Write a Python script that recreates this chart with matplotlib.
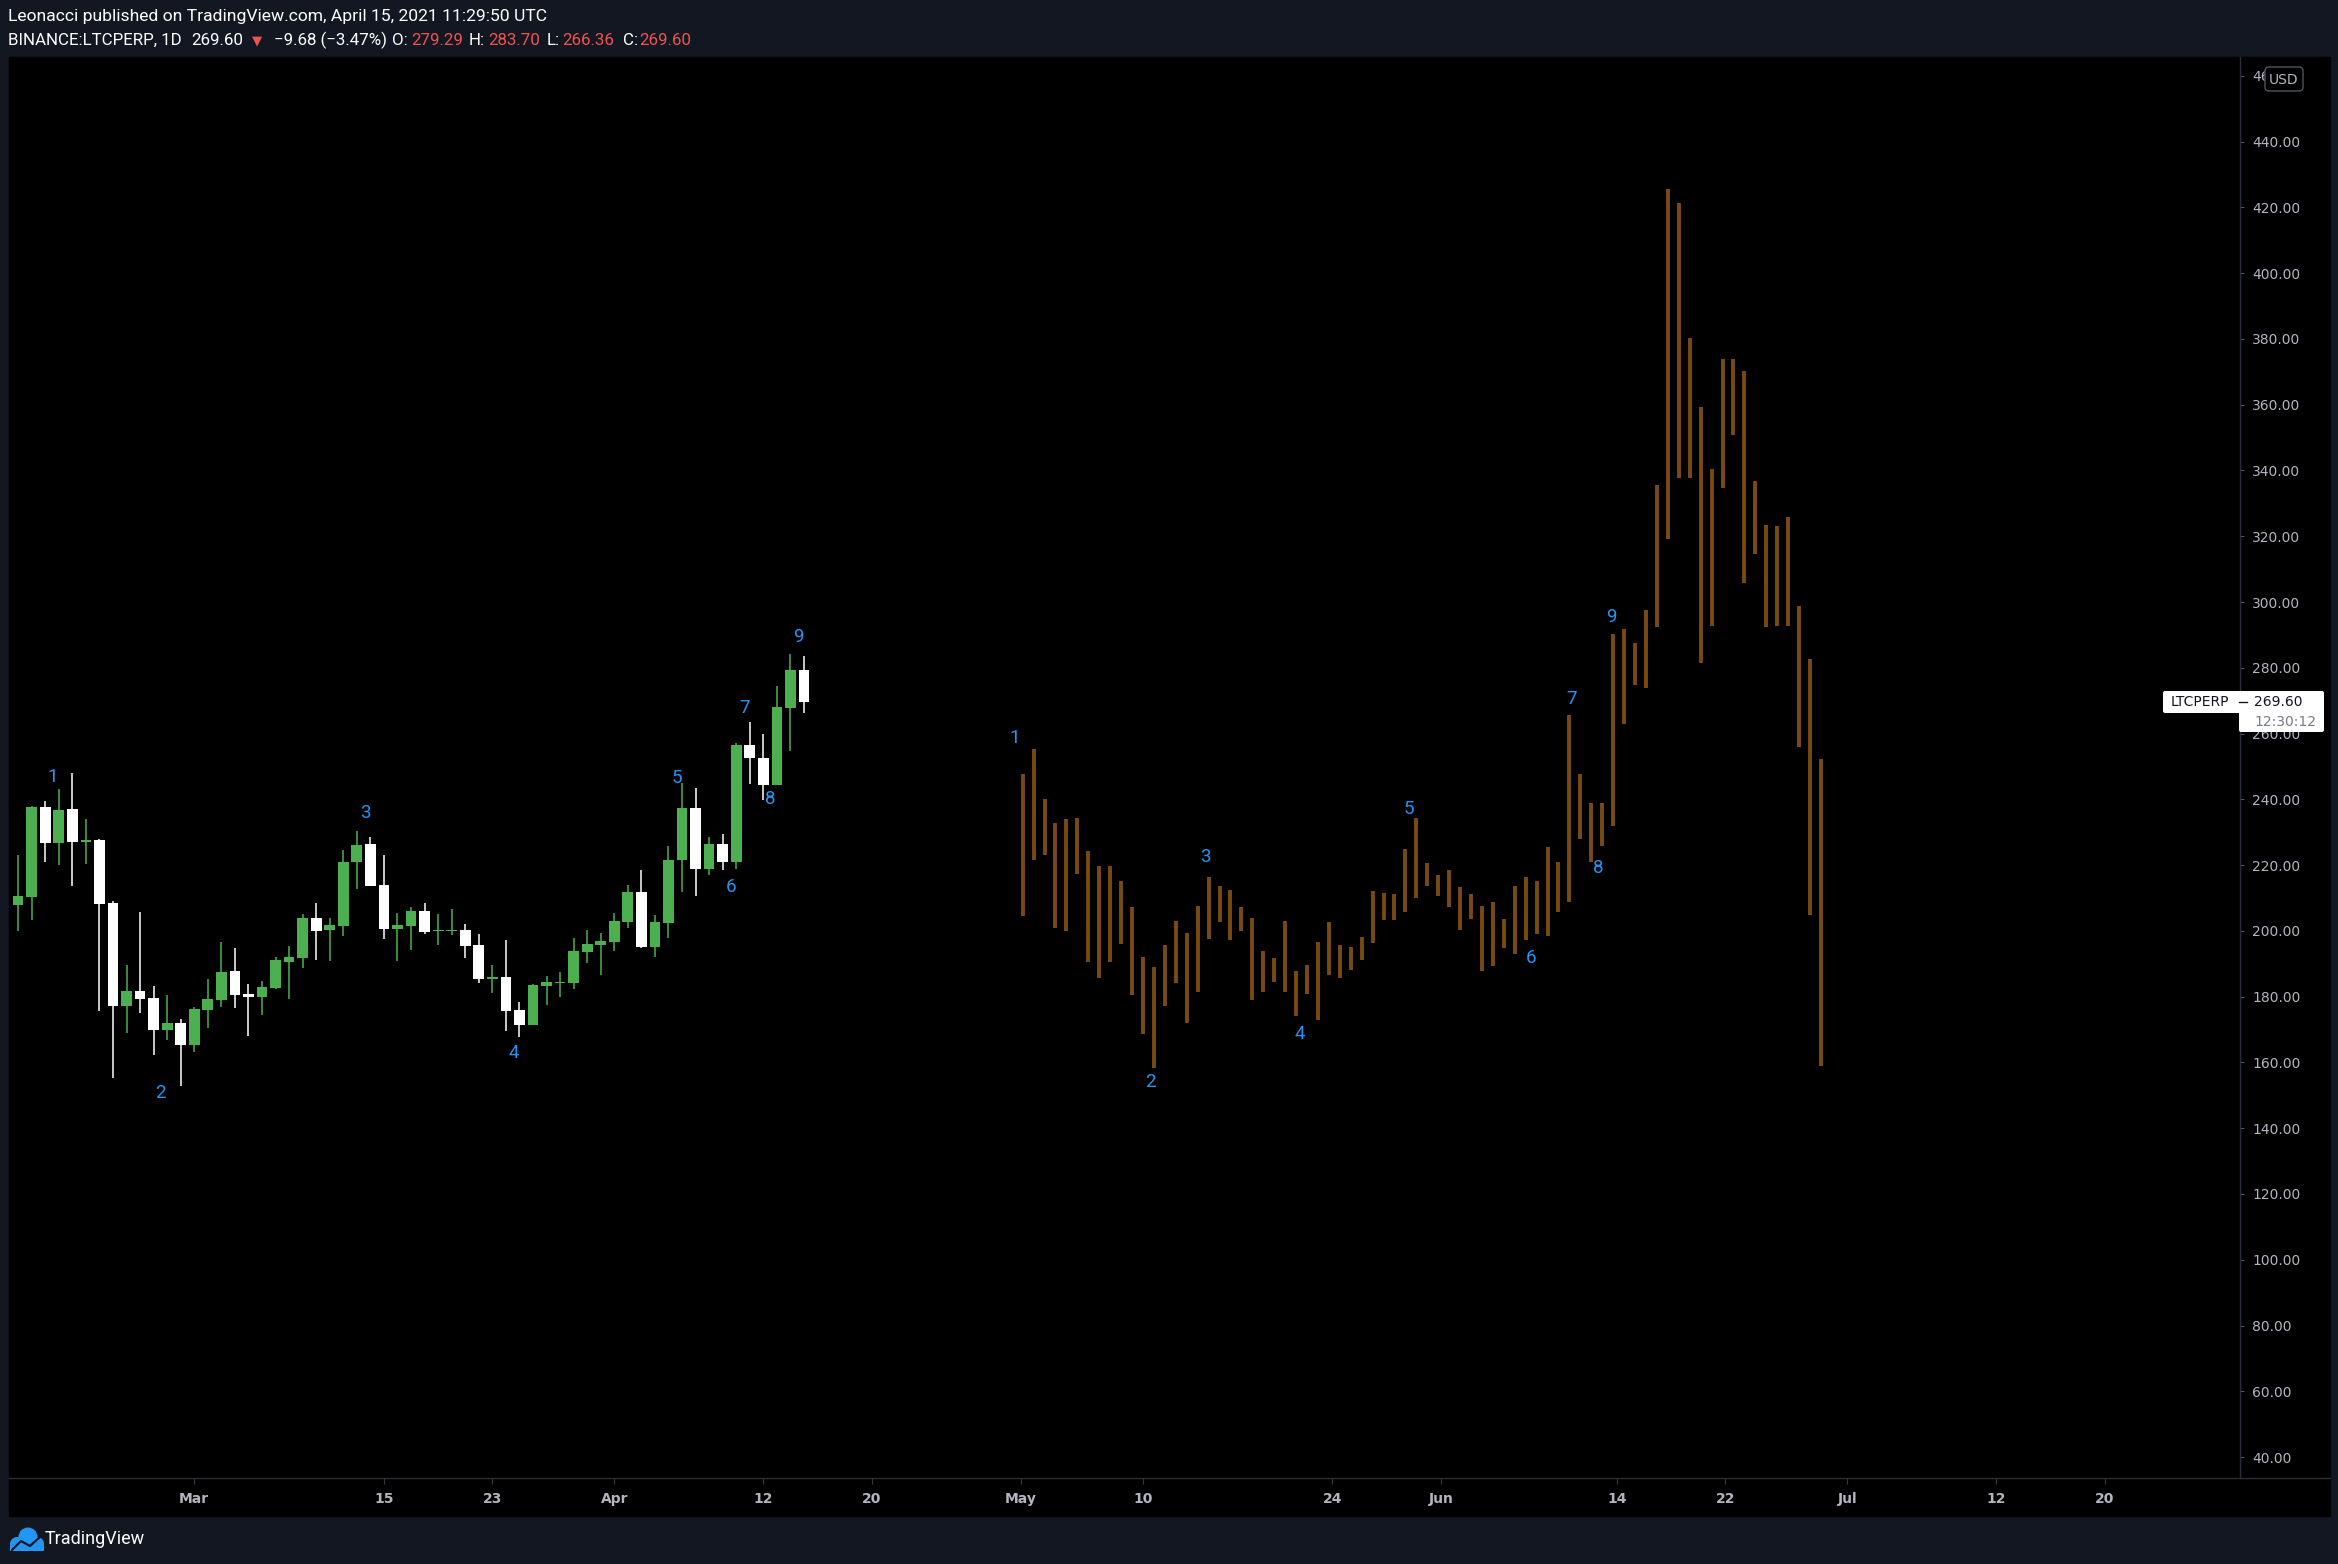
import numpy as np
import pandas as pd
import matplotlib
matplotlib.use('Agg')
import matplotlib.pyplot as plt
from matplotlib.patches import Rectangle, FancyBboxPatch, Circle

# ---------------- data ----------------
candle_start = '2021-02-16'
opens  = [208.0, 210.4, 237.7, 226.8, 237.0, 227.1, 227.6, 208.5, 177.2, 181.7,
          179.6, 170.0, 172.0, 165.4, 176.0, 179.1, 187.8, 180.8, 180.0, 182.7,
          190.6, 191.8, 203.9, 200.4, 201.6, 221.0, 226.4, 213.9, 200.7, 201.6,
          206.0, 199.9, 199.9, 200.2, 195.7, 185.5, 186.0, 175.9, 171.4, 183.3,
          184.2, 184.2, 193.7, 195.8, 196.7, 202.8, 211.8, 195.2, 202.5, 221.6,
          237.4, 218.9, 226.4, 221.0, 256.5, 252.7, 244.4, 267.9, 279.29]
highs  = [223.1, 238.0, 239.5, 243.1, 248.0, 234.0, 227.9, 209.1, 189.6, 205.7,
          183.2, 180.5, 173.2, 176.8, 185.4, 196.6, 194.8, 183.8, 184.7, 192.0,
          195.4, 205.1, 208.5, 203.9, 224.6, 230.4, 228.5, 223.1, 205.4, 207.2,
          208.5, 205.1, 206.6, 202.1, 199.0, 189.6, 197.2, 178.4, 183.8, 186.3,
          187.5, 197.8, 200.3, 199.3, 205.4, 213.9, 218.5, 204.8, 225.8, 245.0,
          243.4, 228.5, 229.4, 257.0, 263.5, 259.9, 274.5, 284.3, 283.70]
lows   = [200.0, 203.3, 221.0, 220.1, 213.7, 220.4, 175.7, 155.3, 169.0, 175.1,
          162.3, 166.9, 152.9, 163.3, 170.6, 176.9, 176.6, 168.1, 174.5, 182.2,
          179.4, 188.8, 191.2, 190.9, 198.5, 212.8, 213.7, 197.6, 190.9, 194.3,
          199.1, 195.8, 198.8, 191.8, 184.2, 181.2, 169.6, 167.8, 171.4, 177.5,
          180.0, 182.4, 190.3, 186.7, 194.0, 200.9, 194.9, 192.1, 197.9, 211.9,
          210.7, 217.1, 218.6, 218.9, 244.8, 239.9, 244.4, 254.8, 266.36]
closes = [210.6, 237.7, 226.8, 236.7, 227.1, 227.6, 208.3, 177.2, 181.7, 179.4,
          170.0, 172.0, 165.4, 176.2, 179.3, 187.5, 180.6, 180.0, 182.9, 191.1,
          192.0, 203.9, 200.1, 201.8, 220.9, 226.1, 213.7, 200.7, 201.8, 206.0,
          199.7, 200.2, 200.2, 195.5, 185.5, 186.0, 175.7, 171.4, 183.5, 184.4,
          184.5, 193.9, 196.0, 196.9, 203.0, 211.8, 195.2, 202.7, 221.5, 237.4,
          218.9, 226.4, 221.0, 256.5, 252.7, 244.4, 268.1, 279.3, 269.60]

# projected "bars pattern" (high / low of each projected bar)
pattern_high = [247.7, 255.3, 240.1, 232.8, 234.0, 234.3, 224.3, 219.7, 219.7, 215.2,
                207.3, 192.1, 189.0, 195.7, 203.0, 199.4, 207.6, 216.4, 213.6, 212.4,
                207.3, 203.9, 193.9, 191.8, 203.0, 187.8, 189.6, 196.6, 202.7, 195.7,
                195.1, 198.1, 212.1, 211.5, 211.2, 224.9, 234.3, 220.6, 217.0, 218.5,
                213.3, 211.2, 207.6, 208.8, 203.6, 213.6, 216.4, 215.2, 225.5, 220.9,
                265.5, 247.6, 238.8, 238.8, 290.2, 291.8, 287.5, 297.6, 335.5, 425.5,
                421.3, 380.4, 359.4, 340.5, 373.8, 373.8, 370.3, 336.8, 323.4, 323.2,
                325.8, 298.8, 282.6, 252.2]
pattern_low  = [204.6, 221.7, 223.2, 201.0, 200.1, 217.4, 190.6, 185.8, 190.6, 196.1,
                180.6, 168.7, 158.4, 177.2, 184.0, 172.1, 181.5, 197.6, 202.8, 197.3,
                200.1, 179.1, 181.5, 184.6, 181.5, 174.2, 180.9, 173.0, 186.7, 185.8,
                188.2, 191.2, 196.4, 203.4, 203.4, 205.8, 210.1, 213.7, 210.7, 207.4,
                200.4, 203.7, 187.9, 189.4, 194.9, 193.1, 197.3, 199.1, 198.5, 205.8,
                208.9, 227.9, 220.8, 225.9, 231.75, 263.0, 274.7, 274.0, 292.3, 319.3,
                337.65, 337.65, 281.35, 292.65, 334.8, 350.7, 305.7, 314.7, 292.3, 292.8,
                292.6, 255.8, 204.8, 159.0]
pattern_start_day = 74.14   # days after Feb 16 (about May 1)
pattern_step_days = 0.807   # projected bar spacing in days

wave_labels = ['1', '2', '3', '4', '5', '6', '7', '8', '9']
candle_wave_day   = [2.55, 10.52, 25.6, 36.6, 48.6, 52.6, 53.6, 55.5, 57.6]
candle_wave_price = [246.9, 150.8, 235.7, 162.9, 246.4, 213.4, 267.7, 240.1, 289.4]
pattern_wave_day   = [73.57, 83.59, 87.6, 94.58, 102.65, 111.63, 114.66, 116.6, 117.6]
pattern_wave_price = [258.5, 153.9, 222.55, 168.5, 237.05, 191.65, 270.4, 219.05, 295.5]

xtick_dates = ['2021-03-01', '2021-03-15', '2021-03-23', '2021-04-01', '2021-04-12',
               '2021-04-20', '2021-05-01', '2021-05-10', '2021-05-24', '2021-06-01',
               '2021-06-14', '2021-06-22', '2021-07-01', '2021-07-12', '2021-07-20']
xtick_labels = ['Mar', '15', '23', 'Apr', '12', '20', 'May', '10', '24', 'Jun',
                '14', '22', 'Jul', '12', '20']
ytick_values = list(range(40, 461, 20))

last_price = 269.60
header_line1 = 'Leonacci published on TradingView.com, April 15, 2021 11:29:50 UTC'

# ---------------- figure ----------------
W, H = 2338, 1564
NAVY = '#131722'
fig = plt.figure(figsize=(W / 100, H / 100), dpi=100, facecolor=NAVY)


def frect(l, t, r, b):
    return [l / W, 1 - b / H, (r - l) / W, (b - t) / H]


bg = fig.add_axes([0, 0, 1, 1], zorder=-1)
bg.set_xlim(0, W); bg.set_ylim(H, 0); bg.axis('off')
bg.add_patch(Rectangle((9, 57), 2330 - 9, 1516 - 57, color='black'))

ax = fig.add_axes(frect(9, 57, 2240, 1478), zorder=1)
ax.set_facecolor('black')
ax.set_xlim(-0.672, 163.98)
ax.set_ylim(33.63, 465.73)
for s in ['top', 'left', 'bottom']:
    ax.spines[s].set_visible(False)
ax.spines['right'].set_color('#2a2e39')
ax.spines['right'].set_linewidth(1.0)

base = pd.Timestamp(candle_start)
cdays = np.array((pd.date_range(candle_start, periods=len(opens)) - base).days, dtype=float)
o = np.array(opens); h = np.array(highs); l = np.array(lows); c = np.array(closes)
up = c >= o
cols = np.where(up, '#4caf50', '#ffffff')
ax.vlines(cdays, l, h, colors=cols, lw=1.1, zorder=2)
bottoms = np.minimum(o, c)
heights = np.maximum(np.abs(c - o), 0.4)
ax.bar(cdays, heights, width=0.79, bottom=bottoms, color=cols, zorder=3, linewidth=0)

pdays = pattern_start_day + pattern_step_days * np.arange(len(pattern_high))
ax.vlines(pdays, pattern_low, pattern_high, colors='#7b4a13', lw=2.8, zorder=2)

BLUE = '#2196f3'
for t, xd, yp in zip(wave_labels, candle_wave_day, candle_wave_price):
    ax.text(xd, yp, t, color=BLUE, fontsize=13.5, family='Roboto', ha='center', va='center')
for t, xd, yp in zip(wave_labels, pattern_wave_day, pattern_wave_price):
    ax.text(xd, yp, t, color=BLUE, fontsize=13.5, family='Roboto', ha='center', va='center')

# axes ticks
ax.yaxis.tick_right()
ax.set_yticks(ytick_values, [f'{v:.2f}' for v in ytick_values])
ax.tick_params(axis='y', direction='out', length=3.0, width=0.8, color='#50535e',
               labelcolor='#b2b5be', labelsize=10, pad=5.8)
xpos = np.array((pd.to_datetime(xtick_dates) - base).days, dtype=float)
ax.set_xticks(xpos, xtick_labels)
ax.tick_params(axis='x', direction='out', length=4.3, width=0.8, color='#363a45',
               labelcolor='#b2b5be', labelsize=10, pad=5.5)
for lb in ax.get_xticklabels():
    lb.set_fontweight('bold')

# ---------------- overlay (pixel coords) ----------------
ov = fig.add_axes([0, 0, 1, 1], zorder=5)
ov.set_xlim(0, W); ov.set_ylim(H, 0); ov.axis('off')
ov.patch.set_visible(False)

ov.plot([9, 2330], [1478, 1478], color='#2a2e39', lw=1.0)

# header
RED = '#ef5350'
ov.text(8, 17, header_line1, color='white', family='Roboto', fontsize=12.6, va='center', ha='left')
hf = dict(family='Roboto', fontsize=12.2, va='center', ha='left')
pieces = [(8, 'BINANCE:LTCPERP, 1D', 'white'), (191, '269.60', 'white'),
          (274, '\u22129.68 (\u22123.47%)', 'white'), (392, 'O:', 'white'),
          (411, '279.29', RED), (469, 'H:', 'white'), (488, '283.70', RED),
          (547, 'L:', 'white'), (562, '266.36', RED), (623, 'C:', 'white'),
          (639, '269.60', RED)]
for px, s, col in pieces:
    ov.text(px, 40.5, s, color=col, **hf)
ov.text(252, 40.5, '\u25bc', color=RED, family='DejaVu Sans', fontsize=9.5, va='center', ha='left')

# USD box (drawn over the partly hidden top price label, as in the original)
ov.add_patch(FancyBboxPatch((2265, 67), 38, 24, boxstyle='round,pad=0,rounding_size=4',
                            facecolor='black', edgecolor='#50535e', lw=1.0))
ov.text(2284, 79.5, 'USD', color='#b2b5be', fontsize=10, ha='center', va='center')

# last price label
ov.add_patch(FancyBboxPatch((2163, 691), 161, 22, boxstyle='round,pad=0,rounding_size=2',
                            facecolor='white', edgecolor='none'))
ov.add_patch(FancyBboxPatch((2239, 710), 85, 22, boxstyle='round,pad=0,rounding_size=2',
                            facecolor='white', edgecolor='none'))
ov.text(2171, 702, 'LTCPERP', color='#131722', fontsize=10, ha='left', va='center')
ov.plot([2239, 2247], [702, 702], color='#131722', lw=1.0)
ov.text(2254, 702, f'{last_price:.2f}', color='#131722', fontsize=10, ha='left', va='center')
ov.text(2254, 722, '12:30:12', color='#787b86', fontsize=10, ha='left', va='center')

# TradingView logo
LB = '#2196f3'
for cx, cy, r in [(17, 1544, 7), (28, 1537, 9.5), (37, 1544, 7)]:
    ov.add_patch(Circle((cx, cy), r, color=LB, lw=0))
ov.add_patch(Rectangle((10, 1543), 34, 8, color=LB, lw=0))
ov.plot([12, 21, 30, 41], [1550, 1541, 1546, 1536], color=NAVY, lw=1.6, solid_capstyle='round')
ov.text(45, 1539, 'TradingView', color='white', family='Roboto', fontsize=13, ha='left', va='center')

fig.savefig('out.png', dpi=100, facecolor=NAVY)
